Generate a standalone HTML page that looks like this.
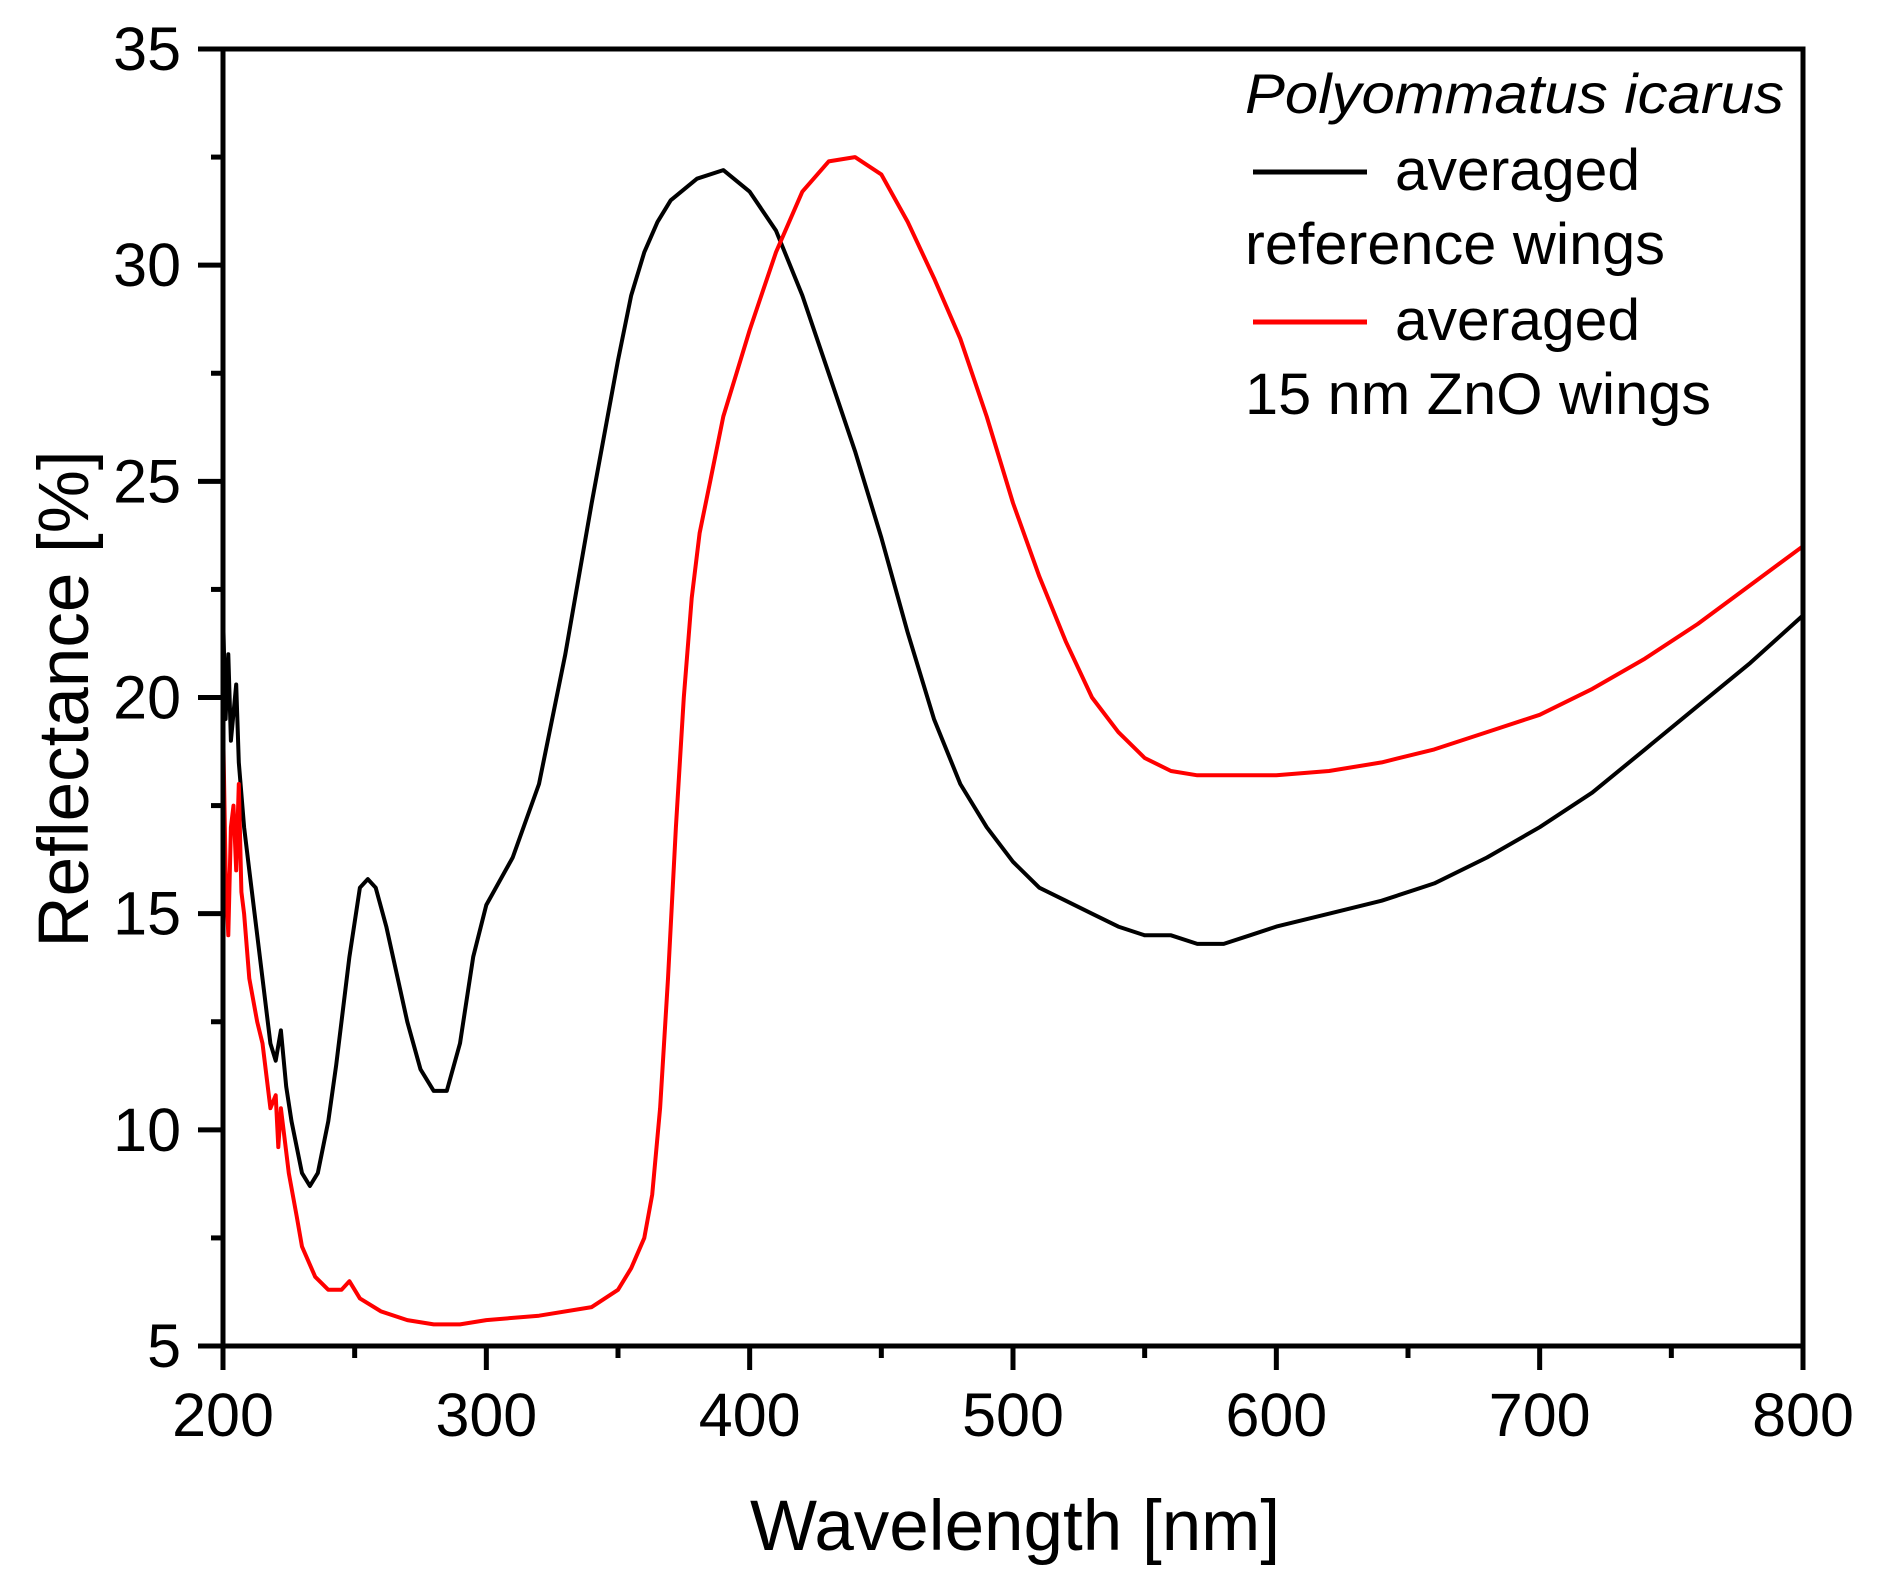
<!DOCTYPE html>
<html><head><meta charset="utf-8"><style>
html,body{margin:0;padding:0;background:#fff}
svg{display:block}
text{font-family:"Liberation Sans",Arial,sans-serif;fill:#000}
</style></head><body>
<svg id="s" width="1877" height="1586" viewBox="0 0 1877 1586" xmlns="http://www.w3.org/2000/svg">
<g id="plot"></g>
<rect x="223" y="49" width="1580" height="1297" fill="none" stroke="#000" stroke-width="5"/>
<g id="ticks" stroke="#000" stroke-width="5"></g>
<g id="labels" font-size="61"></g>
<text x="1015" y="1550" font-size="71" text-anchor="middle">Wavelength [nm]</text>
<text transform="translate(88,699) rotate(-90)" font-size="71" text-anchor="middle">Reflectance [%]</text>
<text x="1245" y="113" font-size="56" font-style="italic" textLength="539" lengthAdjust="spacingAndGlyphs">Polyommatus icarus</text>
<line x1="1253" y1="172" x2="1367" y2="172" stroke="#000" stroke-width="5"/>
<text x="1395" y="190" font-size="58" textLength="245" lengthAdjust="spacingAndGlyphs">averaged</text>
<text x="1245" y="264" font-size="58" textLength="420" lengthAdjust="spacingAndGlyphs">reference wings</text>
<line x1="1253" y1="322" x2="1367" y2="322" stroke="#f00" stroke-width="5"/>
<text x="1395" y="340" font-size="58" textLength="245" lengthAdjust="spacingAndGlyphs">averaged</text>
<text x="1245" y="414" font-size="58" textLength="466" lengthAdjust="spacingAndGlyphs">15 nm ZnO wings</text>
</svg>
<script>
var X=function(w){return 223+(w-200)*1580/600};
var Y=function(r){return 1346-(r-5)*1297/30};
var blk=[[200,22],[201,19.5],[202,21],[203,19],[205,20.3],[206,18.5],[208,17],[210,16],[212,15],[215,13.5],[218,12],[220,11.6],[222,12.3],[224,11],[226,10.2],[230,9],[233,8.7],[236,9],[240,10.2],[243,11.5],[248,14],[252,15.6],[255,15.8],[258,15.6],[262,14.7],[266,13.6],[270,12.5],[275,11.4],[280,10.9],[285,10.9],[290,12],[295,14],[300,15.2],[310,16.3],[320,18],[330,21],[340,24.5],[350,27.8],[355,29.3],[360,30.3],[365,31],[370,31.5],[380,32],[390,32.2],[400,31.7],[410,30.8],[420,29.3],[430,27.5],[440,25.7],[450,23.7],[460,21.5],[470,19.5],[480,18],[490,17],[500,16.2],[510,15.6],[520,15.3],[530,15],[540,14.7],[550,14.5],[560,14.5],[570,14.3],[580,14.3],[590,14.5],[600,14.7],[620,15],[640,15.3],[660,15.7],[680,16.3],[700,17],[720,17.8],[740,18.8],[760,19.8],[780,20.8],[800,21.9]];
var red=[[200,19.5],[201,16],[202,14.5],[203,17],[204,17.5],[205,16],[206,18],[207,15.5],[208,15],[210,13.5],[213,12.5],[215,12],[218,10.5],[220,10.8],[221,9.6],[222,10.5],[225,9],[228,8],[230,7.3],[235,6.6],[240,6.3],[245,6.3],[248,6.5],[252,6.1],[260,5.8],[270,5.6],[280,5.5],[290,5.5],[300,5.6],[320,5.7],[340,5.9],[350,6.3],[355,6.8],[360,7.5],[363,8.5],[366,10.5],[369,13.5],[372,17],[375,20],[378,22.3],[381,23.8],[385,25],[390,26.5],[395,27.5],[400,28.5],[405,29.4],[410,30.3],[420,31.7],[430,32.4],[440,32.5],[450,32.1],[460,31],[470,29.7],[480,28.3],[490,26.5],[500,24.5],[510,22.8],[520,21.3],[530,20],[540,19.2],[550,18.6],[560,18.3],[570,18.2],[580,18.2],[600,18.2],[620,18.3],[640,18.5],[660,18.8],[680,19.2],[700,19.6],[720,20.2],[740,20.9],[760,21.7],[780,22.6],[800,23.5]];
function pl(d,c){return '<polyline fill="none" stroke="'+c+'" stroke-width="4" stroke-linejoin="round" points="'+d.map(function(p){return X(p[0]).toFixed(1)+','+Y(p[1]).toFixed(1)}).join(' ')+'"/>'}
document.getElementById('plot').innerHTML=pl(blk,'#000')+pl(red,'#f00');
var t='',l='';
for(var v=5;v<=35;v+=2.5){var y=Y(v),maj=(v%5==0);t+='<line x1="223" x2="'+(maj?198:211)+'" y1="'+y+'" y2="'+y+'"/>';if(maj)l+='<text x="181" y="'+(y+21)+'" text-anchor="end">'+v+'</text>';}
for(var w=200;w<=800;w+=50){var x=X(w),maj=(w%100==0);t+='<line y1="1346" y2="'+(maj?1370:1358)+'" x1="'+x+'" x2="'+x+'"/>';if(maj)l+='<text x="'+x+'" y="1436" text-anchor="middle">'+w+'</text>';}
document.getElementById('ticks').innerHTML=t;document.getElementById('labels').innerHTML=l;
</script>
</body></html>
